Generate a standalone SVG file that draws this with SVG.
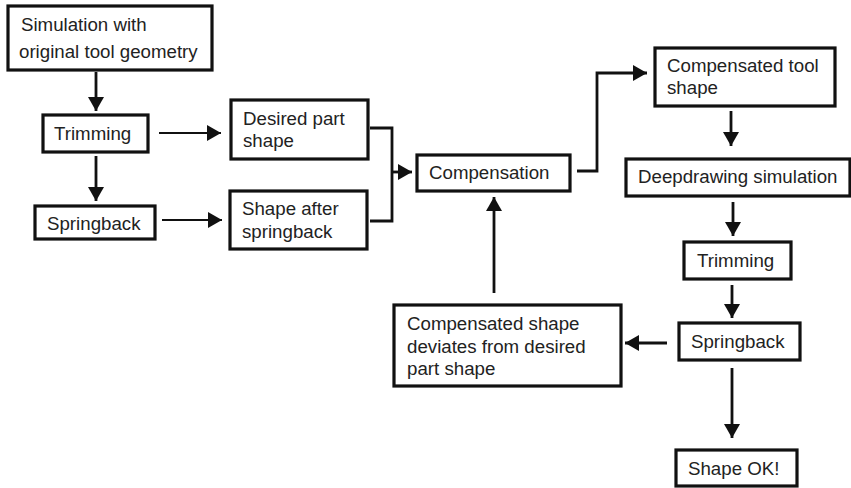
<svg xmlns="http://www.w3.org/2000/svg" width="851" height="488" viewBox="0 0 851 488">
<style>
.box{fill:#fff;stroke:#111;stroke-width:3.2}
.t{font-family:"Liberation Sans",Arial,sans-serif;font-size:18.7px;fill:#222}
.c{fill:none;stroke:#111;stroke-width:2.8}
.h{fill:none;stroke:#111;stroke-width:2.2}
</style>
<defs>
<marker id="ah" markerUnits="userSpaceOnUse" markerWidth="14" markerHeight="16" refX="14" refY="8" orient="auto" viewBox="0 0 14 16">
<path d="M0,0 L14,8 L0,16 z" fill="#111"/>
</marker>
</defs>
<rect width="851" height="488" fill="#fff"/>
<g id="connectors">
<path class="c" d="M96,72 V111" marker-end="url(#ah)"/>
<path class="c" d="M96,156 V201" marker-end="url(#ah)"/>
<path class="h" d="M159,133 H221" marker-end="url(#ah)"/>
<path class="h" d="M162,220 H222" marker-end="url(#ah)"/>
<path class="c" d="M370,128 H392 V221 H370"/>
<path class="c" d="M392,172 H412" marker-end="url(#ah)"/>
<path class="c" d="M577,171 H597 V73 H647" marker-end="url(#ah)"/>
<path class="c" d="M731,111 V146" marker-end="url(#ah)"/>
<path class="c" d="M733,202 V236" marker-end="url(#ah)"/>
<path class="c" d="M732,285 V318" marker-end="url(#ah)"/>
<path class="c" d="M667,343 H625" marker-end="url(#ah)"/>
<path class="c" d="M732,368 V438" marker-end="url(#ah)"/>
<path class="c" d="M494,293 V197" marker-end="url(#ah)"/>
</g>
<g id="sim">
<rect class="box" x="8" y="6" width="204" height="64"/>
<text class="t" x="21" y="31">Simulation with</text>
<text class="t" x="19" y="58">original tool geometry</text>
</g>
<g id="trim1">
<rect class="box" x="43" y="115" width="105" height="37"/>
<text class="t" x="54" y="140">Trimming</text>
</g>
<g id="spring1">
<rect class="box" x="35" y="206" width="120" height="33"/>
<text class="t" x="47" y="230">Springback</text>
</g>
<g id="desired">
<rect class="box" x="231" y="100" width="137" height="59"/>
<text class="t" x="243" y="125">Desired part</text>
<text class="t" x="243" y="147">shape</text>
</g>
<g id="after">
<rect class="box" x="230" y="191" width="137" height="58"/>
<text class="t" x="242" y="215">Shape after</text>
<text class="t" x="242" y="238">springback</text>
</g>
<g id="comp">
<rect class="box" x="417" y="155" width="153" height="36"/>
<text class="t" x="429" y="179">Compensation</text>
</g>
<g id="comptool">
<rect class="box" x="655" y="48" width="180" height="58"/>
<text class="t" x="667" y="72">Compensated tool</text>
<text class="t" x="667" y="94">shape</text>
</g>
<g id="deep">
<rect class="box" x="626" y="159" width="224" height="37"/>
<text class="t" x="638" y="183">Deepdrawing simulation</text>
</g>
<g id="trim2">
<rect class="box" x="684" y="242" width="107" height="37"/>
<text class="t" x="697" y="267">Trimming</text>
</g>
<g id="spring2">
<rect class="box" x="679" y="323" width="121" height="37"/>
<text class="t" x="691" y="348">Springback</text>
</g>
<g id="deviates">
<rect class="box" x="394" y="305" width="227" height="81"/>
<text class="t" x="407" y="330">Compensated shape</text>
<text class="t" x="407" y="353">deviates from desired</text>
<text class="t" x="407" y="375">part shape</text>
</g>
<g id="ok">
<rect class="box" x="676" y="450" width="121" height="36"/>
<text class="t" x="688" y="475">Shape OK!</text>
</g>
</svg>
